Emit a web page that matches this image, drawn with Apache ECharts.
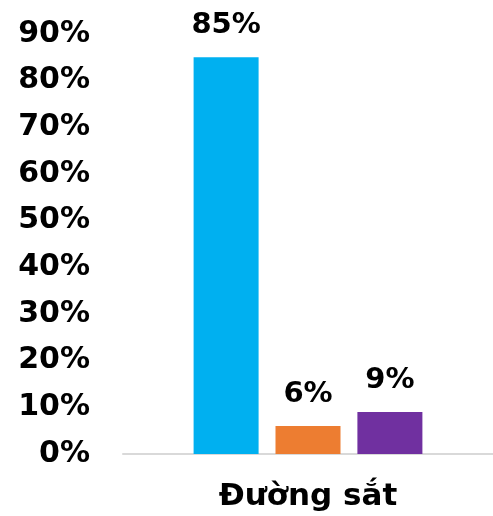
<!DOCTYPE html>
<html>
<head>
<meta charset="utf-8">
<script src="https://cdn.jsdelivr.net/npm/echarts@6/dist/echarts.min.js"></script>
<style>
  html, body { margin: 0; padding: 0; background: #fff; }
  #chart { width: 493px; height: 516px; }
</style>
</head>
<body>
<div id="chart"></div>
<script>
const categories = ['Đường sắt'];
const seriesA = [85];
const seriesB = [6];
const seriesC = [9];
const colors = ['#00B0F0', '#ED7D31', '#7030A0'];

const labelFont = '"DejaVu Sans", sans-serif';

let myChart = echarts.init(document.getElementById('chart'));
function barSeries(data, color) {
  return {
    type: 'bar',
    data: data,
    barWidth: 65,
    barGap: '26%',
    itemStyle: { color: color },
    label: {
      show: true,
      position: 'top',
      distance: 17,
      formatter: '{c}%',
      color: '#000',
      fontWeight: 'bold',
      fontSize: 29,
      fontFamily: labelFont
    }
  };
}
myChart.setOption({
  animation: false,
  grid: { left: 123, right: 0, top: 34, bottom: 62 },
  xAxis: {
    type: 'category',
    data: categories,
    axisLine: { show: true, lineStyle: { color: '#d9d9d9', width: 2 } },
    axisTick: { show: false },
    axisLabel: {
      color: '#000',
      fontWeight: 'bold',
      fontSize: 31,
      fontFamily: labelFont,
      margin: 27
    }
  },
  yAxis: {
    type: 'value',
    min: 0,
    max: 90,
    interval: 10,
    axisLine: { show: false },
    axisTick: { show: false },
    splitLine: { show: false },
    axisLabel: {
      formatter: '{value}%',
      color: '#000',
      fontWeight: 'bold',
      fontSize: 30,
      fontFamily: labelFont,
      margin: 33
    }
  },
  series: [
    barSeries(seriesA, colors[0]),
    barSeries(seriesB, colors[1]),
    barSeries(seriesC, colors[2])
  ]
});
</script>
</body>
</html>
